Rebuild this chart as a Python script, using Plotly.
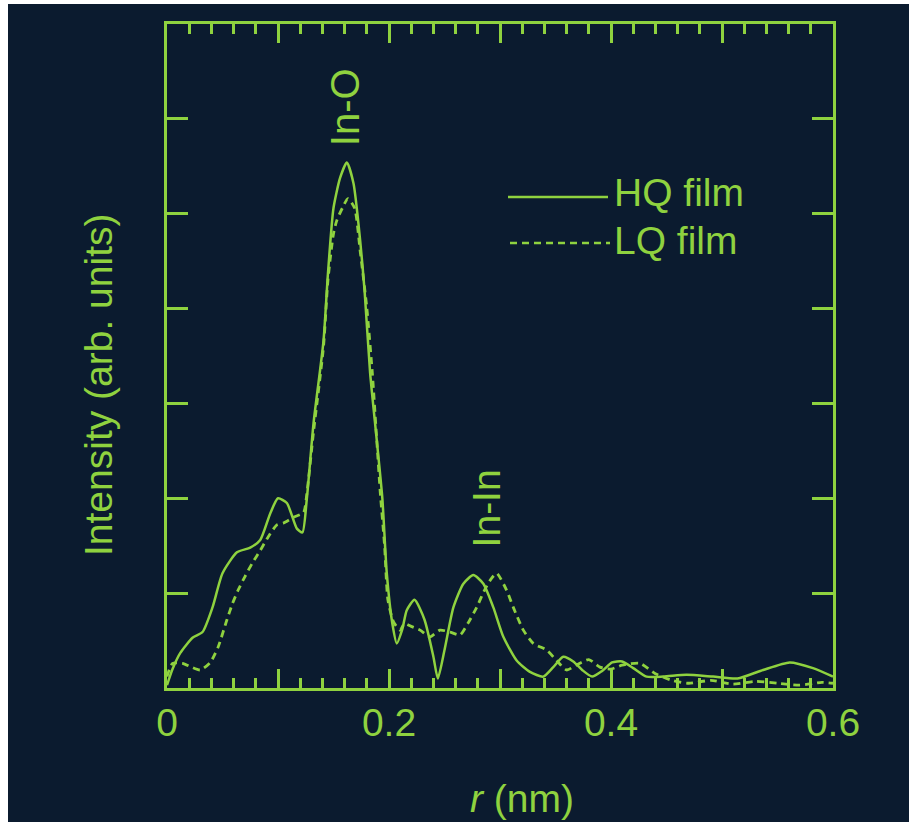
import plotly.graph_objects as go

# ---- data ----
hq_r = [0, 0.005, 0.012, 0.023, 0.032, 0.041, 0.05, 0.063, 0.075, 0.084, 0.093, 0.1, 0.108, 0.117, 0.122,
        0.126, 0.132, 0.141, 0.145, 0.15, 0.156, 0.162, 0.168, 0.174, 0.178, 0.183, 0.189, 0.194, 0.198,
        0.203, 0.207, 0.212, 0.216, 0.223, 0.232, 0.24, 0.244, 0.25, 0.258, 0.267, 0.276, 0.285, 0.294,
        0.303, 0.315, 0.327, 0.339, 0.348, 0.357, 0.366, 0.374, 0.383, 0.392, 0.401, 0.41, 0.42, 0.432,
        0.447, 0.468, 0.492, 0.514, 0.537, 0.561, 0.582, 0.6]
hq_i = [0.03, 0.2, 0.37, 0.53, 0.59, 0.85, 1.21, 1.43, 1.48, 1.56, 1.84, 2.0, 1.95, 1.68, 1.64,
        2.0, 2.79, 3.66, 4.37, 5.06, 5.38, 5.54, 5.32, 4.72, 4.19, 3.32, 2.61, 2.0, 1.21,
        0.68, 0.47, 0.62, 0.82, 0.93, 0.72, 0.33, 0.1, 0.4, 0.85, 1.1, 1.19, 1.1, 0.85,
        0.54, 0.29, 0.17, 0.12, 0.22, 0.33, 0.28, 0.19, 0.12, 0.18, 0.27, 0.28, 0.21, 0.12,
        0.12, 0.14, 0.12, 0.1, 0.19, 0.27, 0.21, 0.12]

lq_r = [0, 0.005, 0.014, 0.022, 0.03, 0.039, 0.046, 0.054, 0.059, 0.064, 0.07, 0.077, 0.084, 0.091,
        0.099, 0.105, 0.114, 0.123, 0.126, 0.132, 0.141, 0.145, 0.15, 0.153, 0.158, 0.163, 0.169,
        0.174, 0.18, 0.185, 0.189, 0.192, 0.196, 0.199, 0.204, 0.21, 0.214, 0.22, 0.228, 0.237,
        0.246, 0.255, 0.264, 0.271, 0.279, 0.286, 0.292, 0.297, 0.306, 0.312, 0.321, 0.33, 0.342,
        0.351, 0.36, 0.37, 0.38, 0.39, 0.4, 0.41, 0.426, 0.44, 0.455, 0.47, 0.49, 0.51, 0.53,
        0.55, 0.57, 0.59, 0.6]
lq_i = [0.12, 0.26, 0.26, 0.22, 0.19, 0.27, 0.43, 0.72, 0.89, 1.03, 1.17, 1.32, 1.45, 1.59,
        1.72, 1.74, 1.8, 1.85, 2.05, 2.7, 3.6, 4.3, 4.79, 4.93, 5.06, 5.16, 5.06,
        4.61, 4.01, 3.32, 2.61, 2.08, 1.5, 0.93, 0.7, 0.61, 0.68, 0.65, 0.61, 0.54,
        0.61, 0.59, 0.56, 0.68, 0.85, 1.03, 1.15, 1.21, 1.03, 0.85, 0.61, 0.47, 0.4,
        0.29, 0.19, 0.25, 0.3, 0.22, 0.2, 0.24, 0.26, 0.15, 0.08, 0.05, 0.08, 0.04, 0.07,
        0.05, 0.03, 0.06, 0.05]

x_tickvals = [0, 0.1, 0.2, 0.3, 0.4, 0.5, 0.6]
x_ticktext = ["0", "", "0.2", "", "0.4", "", "0.6"]

series_names = ["HQ film", "LQ film"]
peak_labels = ["In-O", "In-In"]
peak_pos = [(0.161, 6.12), (0.288, 1.89)]

GREEN = "#8fd23f"
BG = "#0b1b2f"
FONT = "Liberation Sans, Arial, sans-serif"
FS = 39

fig = go.Figure()
fig.add_trace(go.Scatter(x=hq_r, y=hq_i, mode="lines", name=series_names[0],
                         line=dict(color=GREEN, width=2.5, shape="spline", smoothing=0.6),
                         showlegend=False))
fig.add_trace(go.Scatter(x=lq_r, y=lq_i, mode="lines", name=series_names[1],
                         line=dict(color=GREEN, width=2.8, dash="7px,5px", shape="spline", smoothing=0.6),
                         showlegend=False))

# plot area in pixels: x 167..833, y 24..688
L, R, T, B = 167, 76, 24, 134
PW, PH = 909 - L - R, 822 - T - B

def px(xp):
    return (xp - L) / PW

def py(yp):
    return (T + PH - yp) / PH

shapes = [
    # white strips at top and left of the picture
    dict(type="rect", xref="paper", yref="paper", x0=px(-5), x1=px(8), y0=py(830), y1=py(-5),
         fillcolor="white", line=dict(width=0), layer="above"),
    dict(type="rect", xref="paper", yref="paper", x0=px(-5), x1=px(915), y0=py(4), y1=py(-5),
         fillcolor="white", line=dict(width=0), layer="above"),
    # legend samples
    dict(type="line", xref="paper", yref="paper", x0=px(508), x1=px(608), y0=py(197), y1=py(197),
         line=dict(color=GREEN, width=2.5)),
    dict(type="line", xref="paper", yref="paper", x0=px(510), x1=px(610), y0=py(243), y1=py(243),
         line=dict(color=GREEN, width=2.5, dash="7px,5px")),
]

annotations = [
    dict(text=series_names[0], xref="paper", yref="paper", x=px(612), y=py(193), xanchor="left",
         yanchor="middle", showarrow=False, font=dict(size=FS, color=GREEN, family=FONT)),
    dict(text=series_names[1], xref="paper", yref="paper", x=px(612), y=py(241), xanchor="left",
         yanchor="middle", showarrow=False, font=dict(size=FS, color=GREEN, family=FONT)),
    dict(text=peak_labels[0], x=peak_pos[0][0], y=peak_pos[0][1], textangle=-90, showarrow=False,
         xanchor="center", yanchor="middle", font=dict(size=FS + 1, color=GREEN, family=FONT)),
    dict(text=peak_labels[1], x=peak_pos[1][0], y=peak_pos[1][1], textangle=-90, showarrow=False,
         xanchor="center", yanchor="middle", font=dict(size=FS, color=GREEN, family=FONT)),
    dict(text="Intensity (arb. units)", xref="paper", yref="paper", x=px(98), y=py(385),
         xanchor="center", yanchor="middle",
         textangle=-90, showarrow=False, font=dict(size=FS, color=GREEN, family=FONT)),
    dict(text="<i>r</i> (nm)", xref="paper", yref="paper", x=px(522), y=py(798),
         xanchor="center", yanchor="middle",
         showarrow=False, font=dict(size=FS, color=GREEN, family=FONT)),
]

fig.update_layout(
    width=909, height=822,
    margin=dict(l=L, r=R, t=T, b=B, autoexpand=False),
    paper_bgcolor=BG, plot_bgcolor=BG,
    font=dict(family=FONT, size=FS, color=GREEN),
    shapes=shapes, annotations=annotations,
    showlegend=False,
)
fig.update_xaxes(
    range=[0, 0.6], tickvals=x_tickvals, ticktext=x_ticktext,
    ticks="inside", ticklen=19, tickwidth=2.5, tickcolor=GREEN,
    showline=True, linecolor=GREEN, linewidth=3, mirror="allticks",
    showgrid=False, zeroline=False,
    tickfont=dict(size=FS, color=GREEN, family=FONT), ticklabelstandoff=-2,
    minor=dict(ticks="inside", dtick=0.02, ticklen=10, tickwidth=2.5, tickcolor=GREEN, showgrid=False),
)
fig.update_yaxes(
    range=[0, 7], dtick=1, tick0=0, showticklabels=False,
    ticks="inside", ticklen=21, tickwidth=2.5, tickcolor=GREEN,
    showline=True, linecolor=GREEN, linewidth=3, mirror="allticks",
    showgrid=False, zeroline=False,
)

fig.write_html("out.html")
